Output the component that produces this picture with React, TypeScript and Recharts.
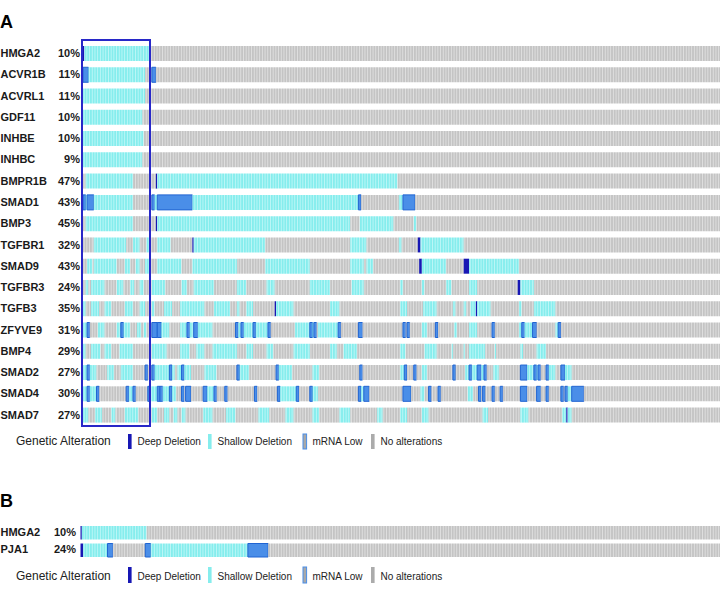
import { Bar, BarChart, Cell, XAxis, YAxis } from "recharts";

// Oncoprint: every sample is one unit on the x axis, 500 samples per row.
const TOTAL = 500;

// run codes: d = deep deletion, s = shallow deletion, m = mRNA low, n = no alteration
const GENES_A = [
  "HMGA2", "ACVR1B", "ACVRL1", "GDF11", "INHBE", "INHBC", "BMPR1B", "SMAD1", "BMP3",
  "TGFBR1", "SMAD9", "TGFBR3", "TGFB3", "ZFYVE9", "BMP4", "SMAD2", "SMAD4", "SMAD7",
];
const PCT_A = [
  "10%", "11%", "11%", "10%", "10%", "9%", "47%", "43%", "45%",
  "32%", "43%", "24%", "35%", "31%", "29%", "27%", "30%", "27%",
];
const RUNS_A = [
  "d1 s49",
  "m4 s42 n5 m3",
  "s46",
  "s44",
  "s45",
  "s44",
  "n2 s35 n17 d1 s178",
  "m2 s1 m5 s29 n14 m2 s2 m26 s123 m2 n28 s3 m9",
  "n2 s35 n17 d1 s143 n7 s25 n15 s2",
  "n8 s24 n5 s5 n5 s3 n5 s10 n16 d1 s53 n63 s12 n24 s2 n12 d2 s32",
  "n3 s4 n1 s17 n6 s4 n4 s3 n4 s4 n5 s18 n8 s33 n21 s33 n30 s10 n2 s5 n34 d2 s18 n13 d4 s37",
  "n2 s2 n2 s10 n9 s5 n5 s3 n4 s3 n6 s10 n12 s4 n5 s15 n17 s7 n15 s6 n26 s15 n16 s9 n27 s2 n14 s2 n16 s4 n13 s6 n30 d2 s10",
  "s2 n4 s6 n4 s5 n10 s6 n5 s4 n5 s2 n7 s6 n6 s18 n7 s12 n5 s2 n5 s5 n16 d1 s13 n27 s7 n45 s5 n12 s10 n12 s2 n6 s2 n3 s4 d1 s10 n21 s2 n9 s16",
  "s3 m2 n6 s5 n9 s3 m2 s5 n5 s3 n2 s2 n4 m4 m3 s6 n8 s5 m2 s3 m3 s11 n17 m2 s2 m2 s7 m2 s9 m2 n18 s11 m2 s1 m2 n1 s15 m2 n13 m3 n30 m2 n1 m2 n9 s4 n6 m2 n12 s2 n9 s6 n11 m2 n18 s2 m2 s6 m3 n14 s2 m2",
  "s2 n4 s7 n3 s5 n6 s10 n14 s11 n10 s7 n5 s6 n6 s18 n7 s5 n10 s5 n15 s12 n15 s5 n5 s10 n32 s4 n14 s9 n11 s1 n8 s1 n3 s12 n7 s1 n18 s2 n10 s7",
  "s3 m2 s5 n8 s5 n5 s9 n9 m2 n3 m2 s11 m2 s2 n2 s3 m2 s5 n10 s9 n15 m2 s7 n20 m2 s10 n15 s5 n30 m2 n28 s3 m2 n5 m2 n4 s4 n19 m2 n7 s3 m2 s4 m3 s2 m2 n5 s4 n16 m5 s5 m2 s1 m2 n4 m2 s5 n4 m3 s5",
  "s3 m2 s5 m2 n20 m2 s3 m2 n9 m2 s5 m2 m2 s5 m2 s3 n4 m2 n1 m4 n9 m3 s5 m2 n6 m2 n20 m2 n15 m2 s12 m2 n8 m2 s4 n30 m2 s2 m4 n25 m6 n7 s3 n3 m2 n5 m2 n20 s4 n4 m2 n1 m2 n5 m2 n4 m2 n13 m5 n7 m3 n4 m2 n9 m2 n1 m2 s3 m9",
  "s4 n5 s5 n7 s3 n7 s10 n10 s4 n5 s4 n3 s3 n3 s3 n13 s7 n10 s7 n17 s8 n12 s6 n14 s5 n15 s8 n20 s4 n13 s5 n11 s5 n40 s4 n24 s6 n25 s3 d1 s3",
];

const GENES_B = ["HMGA2", "PJA1"];
const PCT_B = ["10%", "24%"];
const RUNS_B = ["d1 s48", "d2 s18 m4 n24 m4 s72 m15"];

const LEGEND_ITEMS = [
  { label: "Deep Deletion", kind: "d", x: 128 },
  { label: "Shallow Deletion", kind: "s", x: 208 },
  { label: "mRNA Low", kind: "m", x: 303 },
  { label: "No alterations", kind: "n", x: 371 },
];

const FONT = "'Liberation Sans', Arial, sans-serif";
const DEEP = "#1717b4";
const MRNA = "#4a8ee8";
const MRNA_EDGE = "#2064d2";

type Run = { kind: string; len: number };

function parseRuns(code: string): Run[] {
  const runs = code.split(" ").map((t) => ({ kind: t[0], len: Number(t.slice(1)) }));
  const used = runs.reduce((a, r) => a + r.len, 0);
  if (used < TOTAL) runs.push({ kind: "n", len: TOTAL - used });
  return runs;
}

function Oncoprint({
  id,
  genes,
  pcts,
  runs,
  axisWidth,
  pctX,
  rowH,
  barH,
  textDy,
}: {
  id: string;
  genes: string[];
  pcts: string[];
  runs: string[];
  axisWidth: number;
  pctX: number;
  rowH: number;
  barH: number;
  textDy: number;
}) {
  const parsed = runs.map(parseRuns);
  const maxRuns = Math.max(...parsed.map((p) => p.length));
  const data = genes.map((g, i) => {
    const row: Record<string, any> = { gene: g, pct: pcts[i] };
    parsed[i].forEach((r, k) => (row[`r${k}`] = r.len));
    return row;
  });
  const fillOf = (kind: string) =>
    kind === "d" ? DEEP : kind === "m" ? MRNA : kind === "s" ? `url(#${id}-s)` : `url(#${id}-n)`;

  const tick = (props: any) => {
    const { y, payload } = props;
    return (
      <g>
        <text x={0.5} y={y + textDy} fontSize={11} fontWeight="bold" fill="#1a1a1a" fontFamily={FONT}>
          {payload.value}
        </text>
        <text x={pctX} y={y + textDy} fontSize={11} fontWeight="bold" fill="#1a1a1a" fontFamily={FONT} textAnchor="end">
          {pcts[payload.index]}
        </text>
      </g>
    );
  };

  return (
    <BarChart
      width={axisWidth + TOTAL * 1.35}
      height={genes.length * rowH}
      data={data}
      layout="vertical"
      margin={{ top: 0, right: 0, bottom: 0, left: 0 }}
    >
      <defs>
        <pattern id={`${id}-n`} patternUnits="userSpaceOnUse" width={2.7} height={10}>
          <rect x={0} y={0} width={2.7} height={10} fill="#c4c4c4" />
          <rect x={0} y={0} width={0.75} height={10} fill="#e6e6e6" />
        </pattern>
        <pattern id={`${id}-s`} patternUnits="userSpaceOnUse" width={2.7} height={10}>
          <rect x={0} y={0} width={2.7} height={10} fill="#86eded" />
          <rect x={0} y={0} width={0.75} height={10} fill="#c8fafa" />
        </pattern>
      </defs>
      <XAxis type="number" domain={[0, TOTAL]} hide />
      <YAxis
        type="category"
        dataKey="gene"
        width={axisWidth}
        axisLine={false}
        tickLine={false}
        interval={0}
        tick={tick}
      />
      {Array.from({ length: maxRuns }, (_, k) => (
        <Bar key={k} dataKey={`r${k}`} stackId="a" barSize={barH} isAnimationActive={false}>
          {parsed.map((p, i) => {
            const kind = p[k] ? p[k].kind : "n";
            return (
              <Cell
                key={i}
                fill={fillOf(kind)}
                stroke={kind === "m" ? MRNA_EDGE : "none"}
                strokeWidth={kind === "m" ? 1 : 0}
              />
            );
          })}
        </Bar>
      ))}
    </BarChart>
  );
}

function Legend({ top, h, baseline }: { top: number; h: number; baseline: number }) {
  return (
    <g fontFamily={FONT} fill="#222">
      <text x={16} y={baseline} fontSize={12}>
        Genetic Alteration
      </text>
      {LEGEND_ITEMS.map((it) => (
        <g key={it.label}>
          <rect
            x={it.x}
            y={top}
            width={3.6}
            height={h}
            fill={it.kind === "d" ? DEEP : it.kind === "s" ? "#86eded" : it.kind === "m" ? "#a8a8a8" : "#ababab"}
            stroke={it.kind === "m" ? MRNA : "none"}
            strokeWidth={1}
          />
          <text x={it.x + 9.5} y={baseline} fontSize={10}>
            {it.label}
          </text>
        </g>
      ))}
    </g>
  );
}

export default function App() {
  return (
    <div
      style={{
        position: "absolute",
        left: 0,
        top: 0,
        width: 720,
        height: 592,
        overflow: "hidden",
        background: "#fff",
        fontFamily: FONT,
      }}
    >
      <svg width={720} height={592} style={{ position: "absolute", left: 0, top: 0 }}>
        <text x={0} y={27.5} fontSize={18} fontWeight="bold" fill="#000" fontFamily={FONT}>
          A
        </text>
        <text x={0} y={507} fontSize={18} fontWeight="bold" fill="#000" fontFamily={FONT}>
          B
        </text>
        <Legend top={434} h={15} baseline={445} />
        <Legend top={567} h={16} baseline={579.5} />
      </svg>
      <div style={{ position: "absolute", left: 0, top: 43.3 }}>
        <Oncoprint
          id="pa"
          genes={GENES_A}
          pcts={PCT_A}
          runs={RUNS_A}
          axisWidth={83}
          pctX={80}
          rowH={21.27}
          barH={15}
          textDy={3.5}
        />
      </div>
      <div style={{ position: "absolute", left: 0, top: 524 }}>
        <Oncoprint
          id="pb"
          genes={GENES_B}
          pcts={PCT_B}
          runs={RUNS_B}
          axisWidth={80.5}
          pctX={76}
          rowH={17.5}
          barH={13.5}
          textDy={3}
        />
      </div>
      <div
        style={{
          position: "absolute",
          left: 81,
          top: 39,
          width: 70,
          height: 388,
          border: "2px solid #2828c8",
          boxSizing: "border-box",
        }}
      />
    </div>
  );
}
